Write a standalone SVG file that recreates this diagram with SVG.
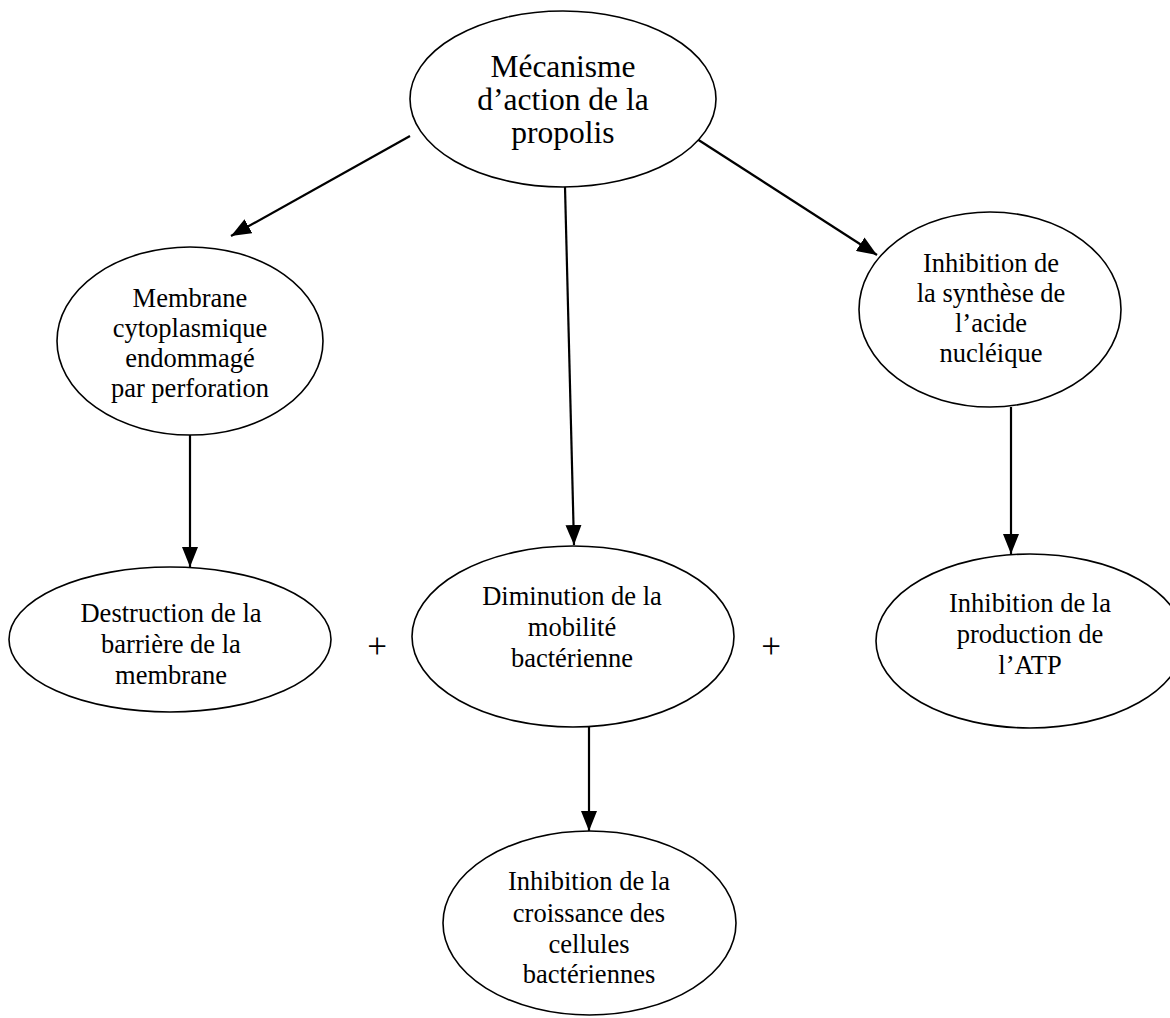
<svg xmlns="http://www.w3.org/2000/svg" width="1170" height="1018" viewBox="0 0 1170 1018">
<style>
.n ellipse{fill:#fff;stroke:#000;stroke-width:1.6}
.n text{font-family:"Liberation Serif","Times New Roman",serif;font-size:26.5px;fill:#000;text-anchor:middle}
#top text{font-size:31.5px}
.c line{stroke:#000;stroke-width:2.2}
.plus{font-family:"Liberation Serif","Times New Roman",serif;font-size:35px;fill:#000;text-anchor:middle}
</style>
<defs>
<marker id="ah" viewBox="0 0 20 16" refX="20" refY="8" markerWidth="20" markerHeight="16" markerUnits="userSpaceOnUse" orient="auto">
<path d="M0,0 L20,8 L0,16 z" fill="#000"/>
</marker>
</defs>
<rect width="1170" height="1018" fill="#fff"/>
<g class="c">
<line x1="410" y1="136" x2="231" y2="236" marker-end="url(#ah)"/>
<line x1="565" y1="187" x2="574" y2="545" marker-end="url(#ah)"/>
<line x1="697" y1="139" x2="877" y2="255" marker-end="url(#ah)"/>
<line x1="190" y1="435" x2="190" y2="567" marker-end="url(#ah)"/>
<line x1="1011" y1="407" x2="1011" y2="554" marker-end="url(#ah)"/>
<line x1="589" y1="727" x2="589" y2="831" marker-end="url(#ah)"/>
</g>
<g id="top" class="n">
<ellipse cx="563" cy="99" rx="153" ry="88"/>
<text x="563" y="77">Mécanisme</text>
<text x="563" y="110">d’action de la</text>
<text x="563" y="143">propolis</text>
</g>
<g id="membrane" class="n">
<ellipse cx="190" cy="341" rx="133" ry="94"/>
<text x="190" y="307">Membrane</text>
<text x="190" y="337">cytoplasmique</text>
<text x="190" y="367">endommagé</text>
<text x="190" y="397">par perforation</text>
</g>
<g id="synthese" class="n">
<ellipse cx="990" cy="309.5" rx="131" ry="97.5"/>
<text x="991" y="272">Inhibition de</text>
<text x="991" y="302">la synthèse de</text>
<text x="991" y="332">l’acide</text>
<text x="991" y="362">nucléique</text>
</g>
<g id="destruction" class="n">
<ellipse cx="170" cy="639.5" rx="161" ry="72.5"/>
<text x="171" y="622">Destruction de la</text>
<text x="171" y="653">barrière de la</text>
<text x="171" y="684">membrane</text>
</g>
<g id="diminution" class="n">
<ellipse cx="573" cy="636.5" rx="161" ry="90.5"/>
<text x="572" y="605">Diminution de la</text>
<text x="572" y="636">mobilité</text>
<text x="572" y="667">bactérienne</text>
</g>
<g id="atp" class="n">
<ellipse cx="1030" cy="641" rx="154" ry="87"/>
<text x="1030" y="612">Inhibition de la</text>
<text x="1030" y="643">production de</text>
<text x="1030" y="674">l’ATP</text>
</g>
<g id="croissance" class="n">
<ellipse cx="589.5" cy="923" rx="146.5" ry="92"/>
<text x="589" y="890">Inhibition de la</text>
<text x="589" y="922">croissance des</text>
<text x="589" y="953">cellules</text>
<text x="589" y="983">bactériennes</text>
</g>
<text class="plus" x="377" y="658">+</text>
<text class="plus" x="771" y="658">+</text>
</svg>
